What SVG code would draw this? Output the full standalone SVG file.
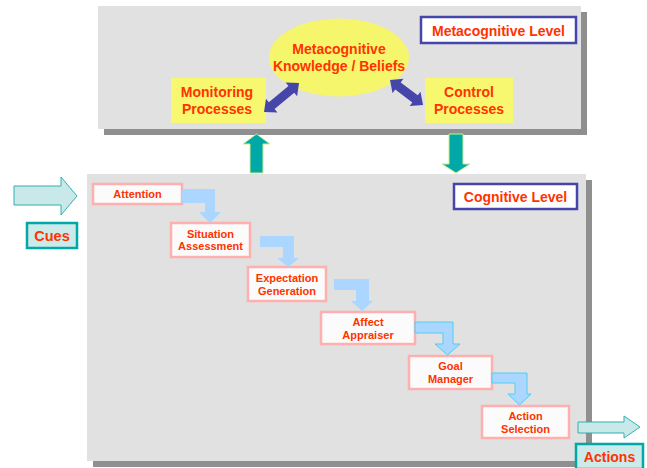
<svg xmlns="http://www.w3.org/2000/svg" width="647" height="468" viewBox="0 0 647 468">
<style>
text{font-family:"Liberation Sans",Arial,sans-serif;font-weight:bold;fill:#ff3300;text-anchor:middle}
.big{font-size:14px}
.sm{font-size:11px}
.panel{fill:#e1e1e1}
.shadow{fill:#8f8f8f}
.step{fill:#fbfbfb;stroke:#ffb0ae;stroke-width:2.5}
.yel{fill:#f8f870}
.lvl{fill:#ffffff;stroke:#4646aa;stroke-width:2.5}
.flow{fill:#aad6ff}
.flow2{fill:#aad6ff;stroke:#55ccee;stroke-width:1}
.teal{fill:#00a8a8;stroke:#ccee88;stroke-width:1}
.dbl{fill:#4646aa}
.io{fill:#c8e8ea;stroke:#33b0b0;stroke-width:1}
.iobox{fill:#cceaea;stroke:#00a8a8;stroke-width:2.5}
</style>
<rect width="647" height="468" fill="#ffffff"/>
<g id="metacognitive-panel">
<rect class="shadow" x="104" y="12" width="483" height="123"/>
<rect class="panel" x="98" y="6" width="483" height="123"/>
</g>
<g id="cognitive-panel">
<rect class="shadow" x="93" y="180" width="499" height="287"/>
<rect class="panel" x="87" y="174" width="499" height="287"/>
</g>
<g id="metacognitive-level">
<rect class="lvl" x="421" y="17" width="155" height="26"/>
<text class="big" x="498.5" y="36">Metacognitive Level</text>
</g>
<g id="knowledge">
<ellipse cx="339" cy="57.5" rx="70" ry="39" fill="#f6f66c"/>
<text class="big" x="339" y="54">Metacognitive</text>
<text class="big" x="339" y="70.5">Knowledge / Beliefs</text>
</g>
<g id="monitoring">
<rect class="yel" x="171" y="78" width="95" height="45"/>
<text class="big" x="217" y="97">Monitoring</text>
<text class="big" x="217" y="114">Processes</text>
</g>
<g id="control">
<rect class="yel" x="425" y="78" width="88" height="45"/>
<text class="big" x="469" y="97">Control</text>
<text class="big" x="469" y="114">Processes</text>
</g>
<g id="cognitive-level">
<rect class="lvl" x="454" y="184" width="123" height="25"/>
<text class="big" x="515.5" y="202">Cognitive Level</text>
</g>
<g id="cues">
<path class="io" d="M14,186 H61 V177 L77,196 L61,215 V205 H14 Z"/>
<rect class="iobox" x="27" y="223" width="50" height="25"/>
<text x="52" y="240.5" style="font-size:14.5px">Cues</text>
</g>
<g id="actions">
<path class="io" d="M578,422 H624 V416 L640,427 L624,438 V433 H578 Z"/>
<rect class="iobox" x="576" y="444" width="67" height="25"/>
<text class="big" x="609.5" y="461.5">Actions</text>
</g>
<g id="attention">
<rect class="step" x="93" y="184" width="89" height="20"/>
<text class="sm" x="137.5" y="198">Attention</text>
</g>
<g id="situation-assessment">
<rect class="step" x="171" y="223" width="79" height="34"/>
<text class="sm" x="210.5" y="238">Situation</text>
<text class="sm" x="210.5" y="250">Assessment</text>
</g>
<g id="expectation-generation">
<rect class="step" x="248" y="267" width="78" height="34"/>
<text class="sm" x="287" y="281.5">Expectation</text>
<text class="sm" x="287" y="294.5">Generation</text>
</g>
<g id="affect-appraiser">
<rect class="step" x="321" y="312" width="94" height="32"/>
<text class="sm" x="368" y="326">Affect</text>
<text class="sm" x="368" y="338.5">Appraiser</text>
</g>
<g id="goal-manager">
<rect class="step" x="409" y="356" width="83" height="33"/>
<text class="sm" x="450.5" y="370">Goal</text>
<text class="sm" x="450.5" y="382.5">Manager</text>
</g>
<g id="action-selection">
<rect class="step" x="482" y="406" width="87" height="32"/>
<text class="sm" x="525.5" y="420">Action</text>
<text class="sm" x="525.5" y="433">Selection</text>
</g>
<g id="connectors">
<path class="teal" d="M250,173 V144 H243 L256.5,134 L270,144 H263 V173 Z"/>
<path class="teal" d="M449,134 H463 V164 H470 L456,173 L442,164 H449 Z"/>
<polygon class="dbl" transform="translate(264,112) rotate(-39.6)" points="0,0 10,-9 10,-4.5 35.5,-4.5 35.5,-9 45.5,0 35.5,9 35.5,4.5 10,4.5 10,9"/>
<polygon class="dbl" transform="translate(390,80) rotate(37.1)" points="0,0 10,-9 10,-4.5 31.4,-4.5 31.4,-9 41.4,0 31.4,9 31.4,4.5 10,4.5 10,9"/>
<path class="flow" d="M182,189 H215 V212 H221 L210,223 L199,212 H205 V203 H182 Z"/>
<path class="flow" d="M260,236 H294 V258 H299 L288.5,267 L277,258 H283 V247 H260 Z"/>
<path class="flow" d="M334,279 H369 V301 H373 L362,311 L351,301 H356 V290 H334 Z"/>
<path class="flow2" d="M415,322 H453 V344 H460 L447.5,355 L435,344 H443 V333 H415 Z"/>
<path class="flow2" d="M492,373 H527 V394 H531 L519.5,405 L508,394 H515 V383 H492 Z"/>
</g>
</svg>
